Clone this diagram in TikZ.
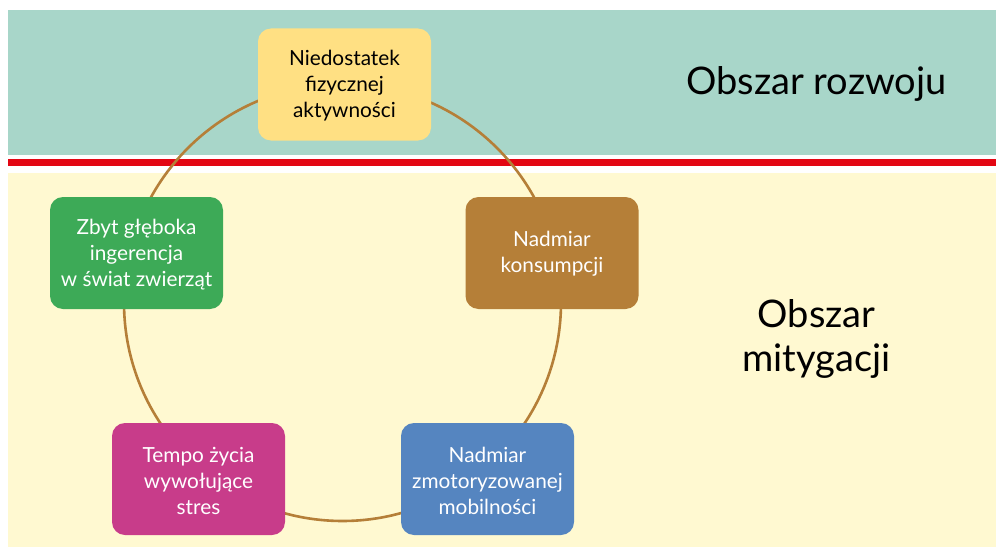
\documentclass[tikz,border=0pt]{standalone}
\usepackage{fontspec}
\setmainfont{Lato}
\definecolor{teal}{HTML}{A8D6C9}
\definecolor{cream}{HTML}{FFF9D1}
\definecolor{redline}{HTML}{E30613}
\definecolor{cyellow}{HTML}{FFE083}
\definecolor{cbrown}{HTML}{B57F38}
\definecolor{cgreen}{HTML}{3DAA57}
\definecolor{cpink}{HTML}{C83C8A}
\definecolor{cblue}{HTML}{5585C0}
\tikzset{
  box/.style={rounded corners=13pt, minimum width=173pt, minimum height=112pt, inner sep=0pt},
  boxtext/.style={align=center, inner sep=0pt, font=\fontsize{20.8}{26}\selectfont, text=white},
  region/.style={align=center, font=\fontsize{38}{44}\selectfont, text=black},
  ring/.style={draw=cbrown, line width=2.6pt}
}
\begin{document}
\begin{tikzpicture}[x=1pt,y=-1pt]
\useasboundingbox[fill=white] (0,0) rectangle (996,551);
\fill[teal] (8,10) rectangle (996,155);
\fill[redline] (8,159) rectangle (996,165.5);
\fill[cream] (8,173) rectangle (996,547);
\coordinate (c) at (342.5,302.5);
\draw[ring] (c) circle[radius=218.5];
\node[box, fill=cyellow] (top) at (344.5,84.5) {};
\node[box, fill=cbrown] (brown) at (552,253) {};
\node[box, fill=cgreen] (green) at (136.5,253) {};
\node[box, fill=cpink] (pink) at (198.5,479) {};
\node[box, fill=cblue] (blue) at (487.5,479) {};
\node[boxtext, text=black] (toptxt) at ([yshift=-1.5pt]top.center) {Niedostatek\\fizycznej\\aktywności};
\node[boxtext] (browntxt) at ([yshift=-1pt]brown.center) {Nadmiar\\konsumpcji};
\node[boxtext] (greentxt) at ([yshift=-1.5pt]green.center) {Zbyt głęboka\\ingerencja\\w świat zwierząt};
\node[boxtext] (pinktxt) at ([yshift=-1.5pt]pink.center) {Tempo życia\\wywołujące\\stres};
\node[boxtext] (bluetxt) at ([yshift=-1.5pt]blue.center) {Nadmiar\\zmotoryzowanej\\mobilności};
\node[region] (rozwoj) at (816.5,84) {Obszar rozwoju};
\node[region] (mityg) at (816.5,339) {Obszar\\mitygacji};
\end{tikzpicture}
\end{document}
